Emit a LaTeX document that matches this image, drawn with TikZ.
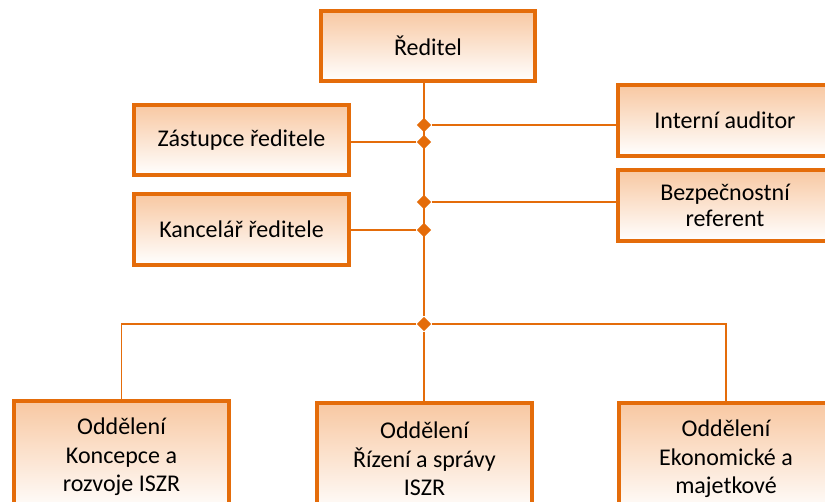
\documentclass[tikz,border=0pt]{standalone}
\usepackage{fontspec}
\setmainfont{Carlito}
\usetikzlibrary{shapes.geometric}
\definecolor{ora}{HTML}{E46C0A}
\definecolor{oralight}{HTML}{F8C8A2}

\begin{document}
\begin{tikzpicture}[x=0.75pt, y=-0.75pt,
    box/.style={rectangle, draw=ora, line width=3pt, top color=oralight, bottom color=white,
        minimum width=161pt, minimum height=53pt, inner sep=0pt, align=center,
        font=\fontsize{18}{19.5}\selectfont},
    dept/.style={box, minimum height=84pt, anchor=north, font=\fontsize{18}{21.5}\selectfont},
    knot/.style={diamond, fill=ora, inner sep=0pt, minimum size=11pt},
    link/.style={draw=ora, line width=1.6pt},
    thinlink/.style={draw=ora, line width=1.2pt}]
        \clip (0,0) rectangle (825,502);

        % Director
        \node[box] (reditel) at (428,46) {Ředitel};

        % Staff
        \node[box] (zastupce) at (241.5,140) {Zástupce ředitele};
        \node[box] (kancelar) at (241.5,229.5) {Kancelář ředitele};
        \node[box] (auditor) at (725,120.5) {Interní auditor};
        \node[box] (bezpecnost) at (725,205.5) {Bezpečnostní\\referent};

        % Departments
        \node[dept] (odd1) at (121.5,399) {Oddělení\\Koncepce a\\rozvoje ISZR};
        \node[dept] (odd2) at (424.5,401) {Oddělení\\Řízení a správy\\ISZR};
        \node[dept] (odd3) at (726,401) {Oddělení\\Ekonomické a\\majetkové};

        % Knots on the trunk
        \node[knot] (k1) at (424,125) {};
        \node[knot] (k2) at (424,142) {};
        \node[knot] (k3) at (424,202) {};
        \node[knot] (k4) at (424,230) {};
        \node[knot] (k5) at (424,324) {};

        % Connections
        \draw[link] (reditel.south -| k5) -- (k5);
        \draw[link] (k1) -- (k1 -| auditor.west);
        \draw[link] (k2) -- (k2 -| zastupce.east);
        \draw[link] (k3) -- (k3 -| bezpecnost.west);
        \draw[link] (k4) -- (k4 -| kancelar.east);

        \draw[thinlink] (k5) -| (odd1.north);
        \draw[thinlink] (k5) -- (k5 |- odd2.north);
        \draw[thinlink] (k5) -| (odd3.north);
\end{tikzpicture}
\end{document}
